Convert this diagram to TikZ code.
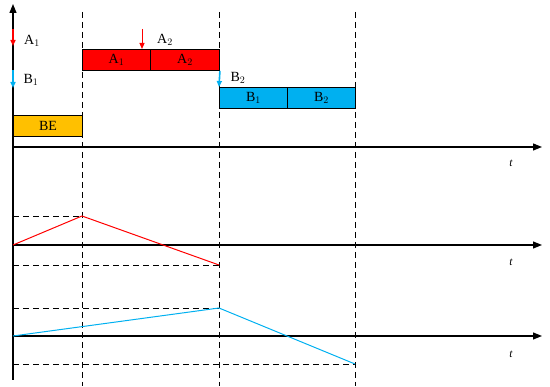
\documentclass[tikz,border=0pt]{standalone}
\usepackage{fontspec}
\setmainfont{Liberation Serif}
\usetikzlibrary{arrows.meta}
\definecolor{cgold}{HTML}{FFC000}
\definecolor{cred}{HTML}{FF0000}
\definecolor{cblue}{HTML}{00B0F0}
\begin{document}
\begin{tikzpicture}[x=1pt,y=-1pt,
  axisline/.style={line width=1.2pt,-{Triangle[length=9pt,width=7pt]}},
  guide/.style={line width=0.9pt,dash pattern=on 6pt off 4pt},
  seg/.style={draw=black,line width=0.9pt,minimum height=21pt,inner sep=0pt,anchor=north west,font=\fontsize{14}{16}\selectfont},
  lbl/.style={font=\fontsize{14}{16}\selectfont,inner sep=0pt},
  tlbl/.style={font=\fontsize{11.5}{13}\selectfont\itshape,inner sep=0pt},
  redarr/.style={cred,line width=1pt,-{Triangle[length=6pt,width=5pt]}},
  bluearr/.style={cblue,line width=1pt,-{Triangle[length=6pt,width=5pt]}},
  onaxis/.style={line width=1.6pt},
  curveR/.style={cred,line width=1pt},
  curveB/.style={cblue,line width=1pt}]
\useasboundingbox (0,0) rectangle (550,387);
% coordinates
\coordinate (o) at (13,380);
\coordinate (otop) at (13,4);
\foreach \n/\x in {v1/82,v2/219,v3/355}{
  \coordinate (\n top) at (\x,12);
  \coordinate (\n bot) at (\x,386);
}
% dashed verticals
\draw[guide] (v1top) -- (v1bot);
\draw[guide] (v2top) -- (v2bot);
\draw[guide] (v3top) -- (v3bot);
% time axes
\coordinate (a1s) at (13,147); \coordinate (a1e) at (542,147);
\coordinate (a2s) at (13,245); \coordinate (a2e) at (542,245);
\coordinate (a3s) at (13,336); \coordinate (a3e) at (542,336);
\draw[axisline] (a1s) -- (a1e);
\draw[axisline] (a2s) -- (a2e);
\draw[axisline] (a3s) -- (a3e);
\node[tlbl] (t1) at (511,163) {t};
\node[tlbl] (t2) at (511,262) {t};
\node[tlbl] (t3) at (511,354) {t};
% vertical axis
\draw[axisline] (o) -- (otop);
% boxes
\node[seg,fill=cgold,minimum width=69pt] (be) at (13,115) {BE};
\node[seg,fill=cred,minimum width=68pt] (ra1) at (82,49) {A$_1$};
\node[seg,fill=cred,minimum width=69pt] (ra2) at (150,49) {A$_2$};
\node[seg,fill=cblue,minimum width=68pt] (bb1) at (219,87) {B$_1$};
\node[seg,fill=cblue,minimum width=68pt] (bb2) at (287,87) {B$_2$};
% arrows and labels
\coordinate (ar1s) at (13,29); \coordinate (ar1e) at (13,46);
\draw[redarr,onaxis] (ar1s) -- (ar1e);
\node[lbl] (la1) at (32,41) {A$_1$};
\coordinate (ab1s) at (13,70); \coordinate (ab1e) at (13,88);
\draw[bluearr,onaxis] (ab1s) -- (ab1e);
\node[lbl] (lb1) at (31,80) {B$_1$};
\coordinate (ar2s) at (142,29);
\draw[redarr] (ar2s) -- (ra1.north east -| ar2s);
\node[lbl] (la2) at (165,40) {A$_2$};
\draw[bluearr,onaxis] (ra2.south east) -- (bb1.north west);
\node[lbl] (lb2) at (238,78) {B$_2$};
% second panel
\coordinate (p2a) at (13,245); \coordinate (p2b) at (82,216); \coordinate (p2c) at (219,265);
\draw[guide] (13,216) -- (p2b);
\draw[guide] (13,265) -- (p2c);
\draw[curveR] (p2a) -- (p2b) -- (p2c);
% third panel
\coordinate (p3a) at (13,336); \coordinate (p3b) at (219,308); \coordinate (p3c) at (355,364);
\draw[guide] (13,308) -- (p3b);
\draw[guide] (13,364) -- (p3c);
\draw[curveB] (p3a) -- (p3b) -- (p3c);
\end{tikzpicture}
\end{document}
